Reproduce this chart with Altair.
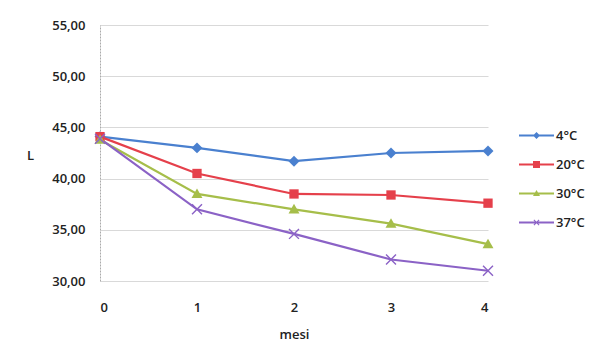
import altair as alt
import pandas as pd

# ---- data ----
months = [0, 1, 2, 3, 4]
series = ["4°C", "20°C", "30°C", "37°C"]
v_4 = [44.1, 43.0, 41.7, 42.5, 42.7]
v_20 = [44.1, 40.5, 38.5, 38.4, 37.6]
v_30 = [43.8, 38.5, 37.0, 35.6, 33.6]
v_37 = [43.9, 37.0, 34.6, 32.1, 31.0]
y_ticks = [30, 35, 40, 45, 50, 55]
x_ticks = [0, 1, 2, 3, 4]

colors = ["#4a80cf", "#e5404b", "#a6be4a", "#8b62c6"]

rows = []
for name, vals in zip(series, [v_4, v_20, v_30, v_37]):
    for m, v in zip(months, vals):
        rows.append({"mesi": m, "L": v, "serie": name})
df = pd.DataFrame(rows)

# marker shapes (filled paths)
diamond = "M0,-1L1,0L0,1L-1,0Z"
square = "M-0.85,-0.85H0.85V0.85H-0.85Z"
triangle = "M0,-1L1,0.75L-1,0.75Z"
xmark = ("M-1,-0.82L-0.82,-1L0,-0.18L0.82,-1L1,-0.82L0.18,0L1,0.82L0.82,1"
         "L0,0.18L-0.82,1L-1,0.82L-0.18,0Z")
marker_paths = [diamond, square, triangle, xmark]

# legend symbols: line + small marker
line_part = "M-3.5,-0.2H3.5V0.2H-3.5Z"
leg_paths = [
    line_part + "M0,-0.7L0.7,0L0,0.7L-0.7,0Z",
    line_part + "M-0.7,-0.7H0.7V0.7H-0.7Z",
    line_part + "M0,-0.7L0.7,0.5L-0.7,0.5Z",
    line_part + "M-0.6,-0.45L-0.45,-0.6L0,-0.15L0.45,-0.6L0.6,-0.45L0.15,0L0.6,0.45"
                "L0.45,0.6L0,0.15L-0.45,0.6L-0.6,0.45L-0.15,0Z",
]

FONT = "Open Sans"

x_enc = alt.X("mesi:Q", scale=alt.Scale(domain=[0, 4], nice=False),
              axis=alt.Axis(values=x_ticks, title="mesi", grid=False, domain=False,
                            ticks=False, labelPadding=20, titlePadding=14,
                            labelFontSize=13, titleFontSize=13, format="d"))
y_enc = alt.Y("L:Q", scale=alt.Scale(domain=[30, 55], nice=False, zero=False),
              axis=alt.Axis(values=y_ticks, title="L", titleAngle=0, titleX=-70, titleY=130,
                            titleAlign="center", titleBaseline="middle",
                            labelExpr="replace(format(datum.value, '.2f'), '.', ',')",
                            ticks=False, labelPadding=15, labelFontSize=13, titleFontSize=13,
                            grid=True, gridColor="#d9d9d9", gridWidth=1,
                            domain=True, domainColor="#aaaaaa", domainDash=[2, 1]))

color_scale = alt.Scale(domain=series, range=colors)

base = alt.Chart(df)

lines = base.mark_line(strokeWidth=2.2).encode(
    x=x_enc, y=y_enc,
    color=alt.Color("serie:N", scale=color_scale, legend=None),
)

points = base.mark_point(filled=True, size=120, opacity=1).encode(
    x=x_enc, y=y_enc,
    color=alt.Color("serie:N", scale=color_scale, legend=None),
    shape=alt.Shape("serie:N", scale=alt.Scale(domain=series, range=marker_paths), legend=None),
)

leg_props = dict(title=None, orient="none", legendX=413, legendY=104,
                 symbolOffset=17, labelOffset=13, rowPadding=15,
                 labelFontSize=13, labelFont=FONT, labelFontWeight=600,
                 labelColor="#222222", symbolOpacity=1, symbolStrokeWidth=0,
                 symbolSize=100)

legend_layer = base.transform_filter("false").mark_point(filled=True, size=100, opacity=1).encode(
    x=x_enc, y=y_enc,
    color=alt.Color("serie:N", scale=color_scale, legend=alt.Legend(**leg_props)),
    shape=alt.Shape("serie:N", scale=alt.Scale(domain=series, range=leg_paths),
                    legend=alt.Legend(**leg_props)),
)

chart = alt.layer(lines, points, legend_layer).resolve_scale(
    shape="independent", color="independent"
).properties(
    width=388, height=256,
    autosize=alt.AutoSizeParams(type="none"),
    padding={"left": 100, "top": 25, "right": 101, "bottom": 60},
    background="white",
).configure_view(stroke=None).configure_axis(
    labelFont=FONT, titleFont=FONT, labelFontWeight=600, titleFontWeight=600,
    labelColor="#222222", titleColor="#222222",
)

chart.save("out.html", embed_options={"renderer": "svg", "actions": False})
